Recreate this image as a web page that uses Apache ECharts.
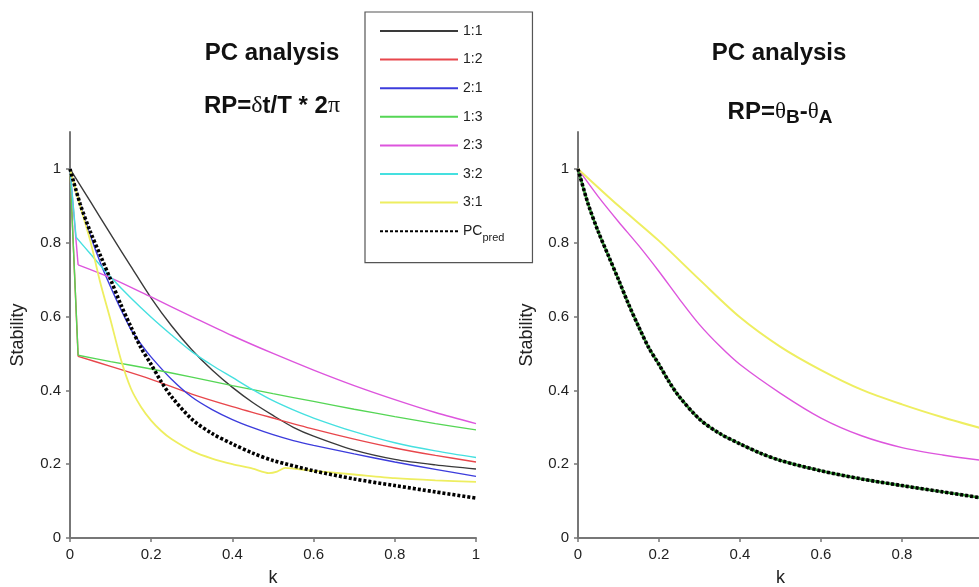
<!DOCTYPE html>
<html>
<head>
<meta charset="utf-8">
<script src="https://cdn.jsdelivr.net/npm/echarts@6/dist/echarts.min.js"></script>
<style>html,body{margin:0;padding:0;background:#fff;}#c{width:979px;height:587px;}</style>
</head>
<body>
<div id="c"></div>
<script>
// ---- tick labels ----
const xTicks = [0, 0.2, 0.4, 0.6, 0.8, 1];
const yTicks = [0, 0.2, 0.4, 0.6, 0.8, 1];

// ---- legend names ----
const seriesNames = ['1:1', '1:2', '2:1', '1:3', '2:3', '3:2', '3:1', 'PC_pred'];

// ---- left panel (RP = δt/T * 2π) ----
const k_11 = [0, 0.05, 0.1, 0.15, 0.2, 0.25, 0.3, 0.35, 0.4, 0.45, 0.5, 0.55, 0.6, 0.7, 0.8, 0.9, 1];
const v_11 = [1, 0.912, 0.823, 0.736, 0.65, 0.575, 0.51, 0.455, 0.408, 0.367, 0.332, 0.3, 0.276, 0.238, 0.213, 0.198, 0.187];

const k_12 = [0, 0.02, 0.1, 0.2, 0.3, 0.4, 0.5, 0.6, 0.7, 0.8, 0.9, 1];
const v_12 = [1, 0.492, 0.465, 0.43, 0.39, 0.356, 0.325, 0.295, 0.268, 0.244, 0.224, 0.206];

const k_21 = [0, 0.025, 0.05, 0.075, 0.1, 0.125, 0.15, 0.175, 0.2, 0.25, 0.3, 0.35, 0.4, 0.45, 0.5, 0.55, 0.6, 0.7, 0.8, 0.9, 1];
const v_21 = [1, 0.905, 0.82, 0.745, 0.68, 0.62, 0.565, 0.525, 0.49, 0.43, 0.382, 0.348, 0.321, 0.299, 0.28, 0.264, 0.251, 0.228, 0.206, 0.186, 0.167];

const k_13 = [0, 0.02, 0.1, 0.2, 0.3, 0.4, 0.5, 0.6, 0.7, 0.8, 0.9, 1];
const v_13 = [1, 0.495, 0.478, 0.458, 0.436, 0.413, 0.391, 0.37, 0.349, 0.329, 0.31, 0.293];

const k_23 = [0, 0.02, 0.1, 0.2, 0.3, 0.4, 0.5, 0.6, 0.7, 0.8, 0.9, 1];
const v_23 = [1, 0.74, 0.705, 0.653, 0.6, 0.548, 0.5, 0.455, 0.413, 0.375, 0.34, 0.31];

const k_32 = [0, 0.015, 0.05, 0.1, 0.15, 0.2, 0.25, 0.3, 0.35, 0.4, 0.45, 0.5, 0.55, 0.6, 0.7, 0.8, 0.9, 1];
const v_32 = [1, 0.815, 0.77, 0.707, 0.65, 0.598, 0.55, 0.505, 0.468, 0.435, 0.402, 0.372, 0.347, 0.325, 0.288, 0.258, 0.236, 0.218];

const k_31 = [0, 0.025, 0.05, 0.075, 0.1, 0.125, 0.15, 0.175, 0.2, 0.225, 0.25, 0.3, 0.35, 0.4, 0.45, 0.49, 0.51, 0.53, 0.55, 0.6, 0.7, 0.8, 0.9, 1];
const v_31 = [1, 0.9, 0.805, 0.69, 0.59, 0.485, 0.405, 0.355, 0.318, 0.29, 0.268, 0.236, 0.215, 0.2, 0.188, 0.176, 0.18, 0.19, 0.188, 0.182, 0.172, 0.162, 0.156, 0.152];

const k_pc = [0, 0.025, 0.05, 0.075, 0.1, 0.125, 0.15, 0.175, 0.2, 0.225, 0.25, 0.3, 0.35, 0.4, 0.45, 0.5, 0.6, 0.7, 0.8, 0.9, 1];
const v_pc = [1, 0.905, 0.83, 0.765, 0.70, 0.633, 0.572, 0.515, 0.47, 0.423, 0.383, 0.322, 0.283, 0.255, 0.23, 0.21, 0.182, 0.16, 0.142, 0.125, 0.108];

// ---- right panel (RP = θB - θA) ----
const kR_23 = [0, 0.05, 0.1, 0.15, 0.2, 0.25, 0.3, 0.35, 0.4, 0.5, 0.6, 0.7, 0.8, 0.9, 1];
const vR_23 = [1, 0.925, 0.857, 0.792, 0.722, 0.648, 0.578, 0.52, 0.47, 0.392, 0.325, 0.277, 0.245, 0.225, 0.21];

const kR_31 = [0, 0.1, 0.2, 0.3, 0.4, 0.5, 0.6, 0.7, 0.8, 0.9, 1];
const vR_31 = [1, 0.9, 0.805, 0.70, 0.598, 0.518, 0.455, 0.402, 0.362, 0.327, 0.296];

// ---- colours ----
const colors = {
  '1:1': '#3a3a3a', '1:2': '#e8474c', '2:1': '#3c3cdc', '1:3': '#55d655',
  '2:3': '#dd55dd', '3:2': '#45e0e0', '3:1': '#eeee60', 'PC_pred': '#000000'
};

function pairs(ks, vs) { return ks.map((k, i) => [k, vs[i]]); }

function line(name, data, gi, extra) {
  return Object.assign({
    name: name, type: 'line', xAxisIndex: gi, yAxisIndex: gi,
    data: data, showSymbol: false, symbol: 'none',
    smooth: 0.3,
    color: colors[name],
    lineStyle: { color: colors[name], width: 1.4 },
    emphasis: { disabled: true }
  }, extra || {});
}

// a series whose first segment is a sharp vertical drop: drawn as straight drop + smooth remainder
function dropLine(name, ks, vs, gi, extra) {
  const p = pairs(ks, vs);
  return [
    line(name, p.slice(0, 2), gi, Object.assign({ smooth: false }, extra || {})),
    line(name, p.slice(1), gi, extra)
  ];
}

function dotted(gi) {
  return line('PC_pred', pairs(k_pc, v_pc), gi, {
    lineStyle: { color: '#000', width: 3.6, type: [3, 2], cap: 'butt' }, z: 5
  });
}

const series = [].concat(
  [line('1:1', pairs(k_11, v_11), 0)],
  dropLine('1:2', k_12, v_12, 0),
  [line('2:1', pairs(k_21, v_21), 0)],
  dropLine('1:3', k_13, v_13, 0),
  dropLine('2:3', k_23, v_23, 0),
  dropLine('3:2', k_32, v_32, 0),
  [line('3:1', pairs(k_31, v_31), 0, { smooth: 0.25, lineStyle: { color: colors['3:1'], width: 1.8 } })],
  [dotted(0)],
  // right panel: ratios that coincide with PC_pred lie beneath it
  [
    line('1:1', pairs(k_pc, v_pc), 1),
    line('1:2', pairs(k_pc, v_pc), 1),
    line('2:1', pairs(k_pc, v_pc), 1),
    line('3:2', pairs(k_pc, v_pc), 1),
    line('1:3', pairs(k_pc, v_pc), 1, { lineStyle: { color: '#3a9a3a', width: 2.5 } }),
    line('2:3', pairs(kR_23, vR_23), 1),
    line('3:1', pairs(kR_31, vR_31), 1, { lineStyle: { color: colors['3:1'], width: 2 } }),
    dotted(1)
  ]
);

const FONT = 'Liberation Sans';
const fmt = v => String(Math.round(v * 10) / 10);

function xAx(gi) {
  return {
    type: 'value', gridIndex: gi, min: 0, max: 1, interval: 0.2,
    name: 'k', nameLocation: 'middle', nameGap: 31,
    nameTextStyle: { fontSize: 18, color: '#222', fontFamily: FONT },
    axisLine: { show: true, onZero: false, lineStyle: { color: '#777', width: 2 } },
    axisTick: { show: true, length: 4, customValues: xTicks, lineStyle: { color: '#777', width: 1.5 } },
    axisLabel: { fontSize: 15, color: '#222', margin: 9, customValues: xTicks, formatter: fmt, fontFamily: FONT },
    splitLine: { show: false }
  };
}
function yAx(gi, gap) {
  return {
    type: 'value', gridIndex: gi, min: 0, max: 1.1, interval: 0.2,
    name: 'Stability', nameLocation: 'middle', nameGap: gap,
    nameTextStyle: { fontSize: 18, color: '#222', fontFamily: FONT },
    axisLine: { show: true, onZero: false, lineStyle: { color: '#777', width: 2 } },
    axisTick: { show: true, length: 4, customValues: yTicks, lineStyle: { color: '#777', width: 1.5 } },
    axisLabel: { fontSize: 15, color: '#222', margin: 9, customValues: yTicks, formatter: fmt, fontFamily: FONT },
    splitLine: { show: false }
  };
}

const titleStyle = { fontSize: 24, fontWeight: 'bold', color: '#111', fontFamily: FONT };

const option = {
  animation: false,
  backgroundColor: '#fff',
  textStyle: { fontFamily: FONT },
  title: [
    { text: 'PC analysis', left: 272, top: 41, textAlign: 'center', padding: 0, textStyle: titleStyle },
    { text: 'RP={g|δ}t/T * 2{g|π}', left: 272, top: 94, textAlign: 'center', padding: 0,
      textStyle: Object.assign({}, titleStyle, { rich: {
        g: { fontSize: 24, fontWeight: 'normal', color: '#111', fontFamily: 'Liberation Serif' }
      } }) },
    { text: 'PC analysis', left: 779, top: 41, textAlign: 'center', padding: 0, textStyle: titleStyle },
    { text: 'RP={g|θ}{s|B}-{g|θ}{s|A}', left: 780, top: 97, textAlign: 'center', padding: 0,
      textStyle: Object.assign({}, titleStyle, { rich: {
        g: { fontSize: 23, fontWeight: 'normal', color: '#111', fontFamily: 'Liberation Serif' },
        s: { fontSize: 19, fontWeight: 'bold', color: '#111', fontFamily: FONT, padding: [11, 0, 0, 0] }
      } }) }
  ],
  legend: {
    data: seriesNames,
    orient: 'vertical',
    left: 365, top: 12,
    padding: [12, 28, 19, 14],
    itemWidth: 78, itemHeight: 14, itemGap: 14.6,
    borderColor: '#555', borderWidth: 1.2,
    backgroundColor: '#fff',
    selectedMode: false,
    itemStyle: { opacity: 0, borderWidth: 0 },
    textStyle: { fontSize: 14, color: '#222', fontFamily: FONT,
      rich: { a: { fontSize: 14, color: '#222' }, b: { fontSize: 11, color: '#222', padding: [14, 0, 0, 0] } } },
    formatter: n => n === 'PC_pred' ? '{a|PC}{b|pred}' : n
  },
  grid: [
    { left: 70, right: 503, top: 132, bottom: 49, containLabel: false, outerBoundsMode: 'none' },
    { left: 578, right: -4, top: 132, bottom: 49, containLabel: false, outerBoundsMode: 'none' }
  ],
  xAxis: [xAx(0), xAx(1)],
  yAxis: [yAx(0, 43), yAx(1, 42)],
  series: series
};

const chart = echarts.init(document.getElementById('c'), null, { renderer: 'canvas' });
chart.setOption(option);
</script>
</body>
</html>
